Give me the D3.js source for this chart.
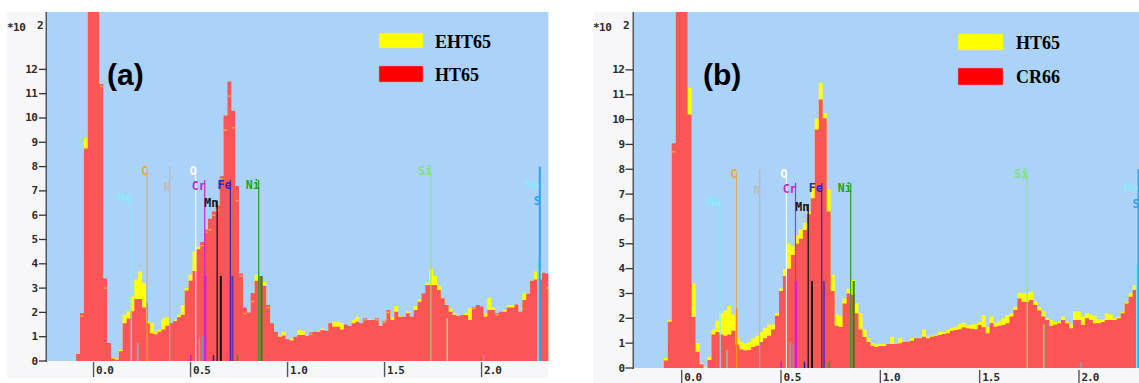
<!DOCTYPE html>
<html><head><meta charset="utf-8">
<script src="https://cdn.jsdelivr.net/npm/d3@7"></script>
<style>body{margin:0;background:#fff;} svg{display:block;}</style>
</head><body>
<svg id="chart" width="1139" height="383"></svg>
<script>
// ---------- DATA ----------
// energy channels (keV), 0.02 keV wide, centred from -0.24 to 2.34
const channelStart = -0.24, channelWidth = 0.02, channelCount = 130;
const energies = d3.range(channelCount).map(i => +(channelStart + i * channelWidth).toFixed(2));

const xTickValues = [0, 0.5, 1.0, 1.5, 2.0];
const xTickLabels = ["0.0", "0.5", "1.0", "1.5", "2.0"];
const yTickValues = [0,1,2,3,4,5,6,7,8,9,10,11,12];

// panel (a): counts (x100)
const aHT65 = [0,0,0,0,0,0,0,0,
 0.29,1.96,8.74,18,25,19,11.4,3.4,0.74,0.1,
 0.05,0.4,1.55,1.75,2.05,2.55,2.55,2.2,1.55,1.14,
 1.1,1.2,1.3,1.45,1.55,1.65,1.8,1.9,2.9,3.3,
 3.7,4.6,4.9,5.4,5.85,6.15,6.4,7.6,10.1,11.5,
 10.3,7.2,3.6,2.2,2.0,2.8,3.3,3.5,3.1,2.3,
 1.55,1.2,1.0,1.05,0.9,0.84,1.0,
 1.07,1.07,1.03,1.17,1.2,1.2,1.28,1.23,1.55,1.41,
 1.41,1.3,1.5,1.44,1.55,1.62,1.55,1.76,1.69,1.69,
 1.76,1.44,1.66,2.1,1.69,2.03,1.82,1.82,1.96,1.82,
 2.1,2.44,2.78,3.13,3.13,3.13,2.92,2.58,2.3,2.03,
 1.89,1.85,1.89,1.89,1.69,2.2,2.3,2.24,1.82,2.1,
 2.1,1.96,2.03,2.03,2.2,2.2,2.33,2.03,2.51,2.78,
 3.3,3.35,3.35,3.63,3.6];
const aEHT65 = [0,0,0,0,0,0,0,0,
 0.25,1.85,9.18,18,25,19,11.3,3.0,0.7,0.12,
 0.1,0.45,1.9,2.05,2.65,3.35,3.68,3.2,1.6,1.55,
 1.2,1.3,1.75,1.8,1.5,1.7,1.9,2.3,3.0,3.55,
 4.5,4.7,4.75,5.3,5.4,6.0,6.2,7.5,9.5,10.9,
 9.6,6.6,3.5,1.95,1.95,2.45,3.55,3.45,3.25,2.2,
 1.5,1.15,1.05,1.2,0.85,0.93,1.0,
 1.28,1.23,1.0,1.1,1.15,1.25,1.33,1.2,1.5,1.62,
 1.62,1.55,1.45,1.4,1.7,1.82,1.5,1.7,1.72,1.65,
 1.7,1.4,1.6,2.0,1.8,2.26,1.85,1.8,2.05,1.8,
 2.26,2.55,2.75,3.22,3.8,3.5,3.1,2.55,2.25,2.15,
 1.98,1.8,1.85,1.95,2.17,2.15,2.25,2.2,1.95,2.6,
 2.2,1.9,2.0,2.1,2.3,2.3,2.3,2.0,2.78,2.8,
 3.3,3.68,3.68,3.6,3.0];

// panel (b)
const bCR66 = [0,0,0,0,0,0,0,0,
 0.3,1.86,9.05,18,25,19,10.2,2.05,0.65,0.15,
 0,0.32,1.35,1.45,1.35,1.3,1.35,1.5,0.95,0.75,
 0.7,0.72,0.85,0.9,1.05,1.2,1.3,1.55,2.1,3.1,
 3.7,4.0,4.55,5.0,5.2,5.55,6.2,6.83,9.6,10.81,
 10.05,6.3,3.1,1.7,1.65,2.6,3.0,2.95,2.2,1.55,
 1.25,1.05,0.9,0.85,0.89,0.89,
 0.97,0.97,0.97,1.0,1.06,1.06,1.1,1.2,1.2,1.26,
 1.2,1.26,1.3,1.33,1.37,1.4,1.5,1.53,1.56,1.64,
 1.6,1.58,1.56,1.73,1.64,1.4,1.8,1.66,1.7,1.73,
 1.8,2.07,2.33,2.8,2.67,2.67,2.74,2.54,2.31,2.07,
 1.93,1.69,1.75,1.8,1.93,1.8,1.6,1.93,1.93,1.73,
 2.0,1.93,1.8,1.8,1.85,1.93,1.93,1.93,2.0,2.2,
 2.6,2.87,3.14,3.67,3.67,3.67];
const bHT65 = [0,0,0,0,0,0,0,0,
 0.4,1.93,8.7,18,25,19,11.28,3.4,1.0,0.2,
 0.05,0.45,1.55,1.9,2.2,2.3,2.5,2.15,1.25,1.05,
 1.0,1.05,1.2,1.3,1.45,1.6,1.75,1.75,2.2,3.2,
 4.0,5.0,4.9,5.35,5.6,5.85,6.3,7.43,10.05,11.48,
 10.26,7.2,3.75,2.15,2.1,2.8,3.2,3.55,2.6,2.2,
 1.55,1.2,1.0,0.95,0.97,0.97,
 0.95,1.26,0.95,1.2,1.1,1.05,1.2,1.15,1.2,1.56,
 1.26,1.3,1.35,1.46,1.45,1.53,1.62,1.66,1.77,1.82,
 1.7,1.75,1.77,1.85,2.13,1.66,2.07,1.82,1.9,2.0,
 2.13,2.2,2.47,3.03,3.0,3.0,3.07,2.7,2.45,2.27,
 2.0,1.93,1.85,1.85,2.07,1.85,1.75,2.27,2.27,2.07,
 2.2,2.15,2.07,1.95,1.95,2.2,2.15,2.0,2.05,2.25,
 2.65,3.0,3.34,3.7,3.7,3.7];

// element markers (keV)
const elementNames    = ["Mo","C","N","O","Cr","Mn","Fe","Ni","Si","Mo","S"];
const elementEnergies = [0.194,0.276,0.393,0.527,0.573,0.637,0.705,0.851,1.739,2.292,2.300];
const elementLabelLevel = [6.7,7.8,7.15,7.8,7.2,6.5,7.25,7.25,7.8,7.25,6.6];
const elementLineTop    = [6.7,7.9,8.0,7.95,7.45,6.6,7.45,7.45,8.0,4.15,8.0];
const elementColors     = ["#86ecfa","#d8ac68","#b4b4b4","#ffffff","#c428d4","#111111","#2828c8","#22a022","#86e486","#74e2f4","#2ea2f2"];
const elementLabelColors= ["#86ecfa","#f0a828","#bcbcbc","#ffffff","#c428d4","#111111","#2828c8","#22a022","#7ee07e","#86ecfa","#2ea2f2"];
const elementLineWidths = [1,1,1,1,1.2,1.2,1.2,1.2,1,2,2];

// secondary marker lines
const minorEnergies = [0.277,0.575,0.656,0.716,0.866,0.228,0.546,0.562,0.501,0.618,0.742,1.823,2.01];
const minorTops     = [2.4,3.5,3.5,3.5,3.5,0.73,1.0,1.0,0.25,0.25,0.25,1.75,0.25];
const minorColors   = ["#ff8a10","#d020e0","#111111","#7030a0","#129012","#a4a4a4","#9aa2b2","#8494a8","#c020d0","#2020c0","#20a020","#86e486","#9a9a9a"];
const minorWidths   = [1.5,2.5,2,2,2,2,1.5,1.5,1.5,1.5,1.5,1.5,1.5];

// ---------- LAYOUT ----------
const panels = [
  {tag:"(a)", back:aEHT65, front:aHT65, legend:["EHT65","HT65"],
   gray:[7,12,548.3,378], plot:[47,12,548.3,361], ymax:14.362,
   xr:[47,548.3], xtickY:[362,377], xlabY:374, ylabEnd:37.5, tick:[39,46.5],
   leg:{x:379,w:44,y1:33,h1:15,y2:66,h2:16,tx:435,b1:48,b2:81},
   tagPos:[107,85], expX:7},
  {tag:"(b)", back:bHT65, front:bCR66, legend:["HT65","CR66"],
   gray:[593,12,1139,383], plot:[634,12,1139,368], ymax:14.33,
   xr:[634,1147.3], xtickY:[370,383], xlabY:381, ylabEnd:624.5, tick:[625.5,633],
   leg:{x:958,w:45,y1:34,h1:16,y2:68,h2:17,tx:1016,b1:49,b2:83},
   tagPos:[703,85], expX:593}
];

const monoFont = "DejaVu Sans Mono";
const svg = d3.select("#chart");
const defs = svg.append("defs");

panels.forEach((p, pi) => {
  const [px0, py0, px1, py1] = p.plot;
  const x = d3.scaleLinear().domain([-0.24, 2.344]).range(p.xr);
  const y = d3.scaleLinear().domain([0, p.ymax]).range([py1, py0]);
  const g = svg.append("g");

  g.append("rect").attr("x", p.gray[0]).attr("y", p.gray[1])
    .attr("width", p.gray[2]-p.gray[0]).attr("height", p.gray[3]-p.gray[1]).attr("fill", "#f7f7fa");
  g.append("rect").attr("x", px0).attr("y", py0).attr("width", px1-px0).attr("height", py1-py0).attr("fill", "#abd2f9");

  const clipId = "clip" + pi;
  defs.append("clipPath").attr("id", clipId).append("rect")
    .attr("x", px0).attr("y", py0).attr("width", px1-px0).attr("height", py1-py0);
  const pg = g.append("g").attr("clip-path", `url(#${clipId})`);

  const stepData = vals => {
    const pts = energies.map((e, i) => ({e: e - channelWidth/2, v: vals[i]}));
    pts.push({e: energies[energies.length-1] + channelWidth/2, v: vals[vals.length-1]});
    return pts;
  };
  const area = d3.area().curve(d3.curveStepAfter)
    .x(d => x(d.e)).y0(y(0)).y1(d => y(d.v));

  pg.append("path").datum(stepData(p.back)).attr("d", area).attr("fill", "#ffff10");
  pg.append("path").datum(stepData(p.front)).attr("d", area).attr("fill", "#fc5555");

  // hidden-series top marks
  pg.selectAll("rect.mark").data(energies.map((e,i)=>({e, b:p.back[i], f:p.front[i]}))
      .filter(d => d.b < d.f - 0.05 && d.b > 0.3 && d.b < p.ymax))
    .join("rect").attr("class","mark")
    .attr("x", d => x(d.e - channelWidth/2) + 0.5)
    .attr("width", d => x(d.e + channelWidth/2) - x(d.e - channelWidth/2) - 1)
    .attr("y", d => y(d.b) - 0.75).attr("height", 1.5)
    .attr("fill", "#f4b038");

  // element lines
  elementNames.forEach((n, i) => {
    pg.append("line").attr("x1", x(elementEnergies[i])).attr("x2", x(elementEnergies[i]))
      .attr("y1", y(elementLineTop[i])).attr("y2", y(0))
      .attr("stroke", elementColors[i]).attr("stroke-width", elementLineWidths[i]);
  });
  minorEnergies.forEach((e, i) => {
    pg.append("line").attr("x1", x(e)).attr("x2", x(e))
      .attr("y1", y(minorTops[i])).attr("y2", y(0))
      .attr("stroke", minorColors[i]).attr("stroke-width", minorWidths[i]);
  });
  elementNames.forEach((n, i) => {
    pg.append("text").attr("x", x(elementEnergies[i]) + 1).attr("y", y(elementLabelLevel[i]))
      .attr("text-anchor", "end").attr("dominant-baseline", "central")
      .attr("font-family", monoFont).attr("font-weight", "bold").attr("font-size", 11.5)
      .attr("fill", elementLabelColors[i]).text(n);
  });

  // y axis
  g.append("line").attr("x1", px0-0.75).attr("x2", px0-0.75).attr("y1", py0).attr("y2", py1+1)
    .attr("stroke", "#555").attr("stroke-width", 1.5);
  yTickValues.forEach(v => {
    g.append("line").attr("x1", p.tick[0]).attr("x2", p.tick[1]).attr("y1", y(v)).attr("y2", y(v))
      .attr("stroke", "#333").attr("stroke-width", 1.3);
    g.append("text").attr("x", p.ylabEnd).attr("y", y(v)).attr("dominant-baseline", "central")
      .attr("text-anchor", "end").attr("font-family", monoFont).attr("font-weight", "bold")
      .attr("font-size", 11).attr("letter-spacing", -0.5).attr("fill", "#2a2a2a").text(v);
  });
  g.append("text").attr("x", p.expX).attr("y", 31).attr("font-family", monoFont)
    .attr("font-weight", "bold").attr("font-size", 11).attr("letter-spacing", -0.5).attr("fill", "#2a2a2a").text("*10");
  g.append("text").attr("x", p.expX + 30).attr("y", 29).attr("font-family", monoFont)
    .attr("font-weight", "bold").attr("font-size", 11).attr("fill", "#2a2a2a").text("2");

  // x axis ticks
  xTickValues.forEach((v, i) => {
    g.append("line").attr("x1", x(v)).attr("x2", x(v)).attr("y1", p.xtickY[0]).attr("y2", p.xtickY[1])
      .attr("stroke", "#555").attr("stroke-width", 1.4);
    g.append("text").attr("x", x(v) + 2.5).attr("y", p.xlabY).attr("font-family", monoFont)
      .attr("font-weight", "bold").attr("font-size", 11).attr("letter-spacing", -1)
      .attr("fill", "#2a2a2a").text(xTickLabels[i]);
  });

  // legend
  const L = p.leg;
  g.append("rect").attr("x", L.x).attr("y", L.y1).attr("width", L.w).attr("height", L.h1)
    .attr("fill", "#ffff00").attr("stroke", "#e0d8a0").attr("stroke-width", 0.5);
  g.append("rect").attr("x", L.x).attr("y", L.y2).attr("width", L.w).attr("height", L.h2)
    .attr("fill", "#ff0000").attr("stroke", "#e09090").attr("stroke-width", 0.5);
  g.append("text").attr("x", L.tx).attr("y", L.b1).attr("font-family", "Liberation Serif")
    .attr("font-weight", "bold").attr("font-size", 18).attr("fill", "#000").text(p.legend[0]);
  g.append("text").attr("x", L.tx).attr("y", L.b2).attr("font-family", "Liberation Serif")
    .attr("font-weight", "bold").attr("font-size", 18).attr("fill", "#000").text(p.legend[1]);

  g.append("text").attr("x", p.tagPos[0]).attr("y", p.tagPos[1]).attr("font-family", "Liberation Sans")
    .attr("font-weight", "bold").attr("font-size", 30).attr("fill", "#000").text(p.tag);
});
</script>
</body></html>
